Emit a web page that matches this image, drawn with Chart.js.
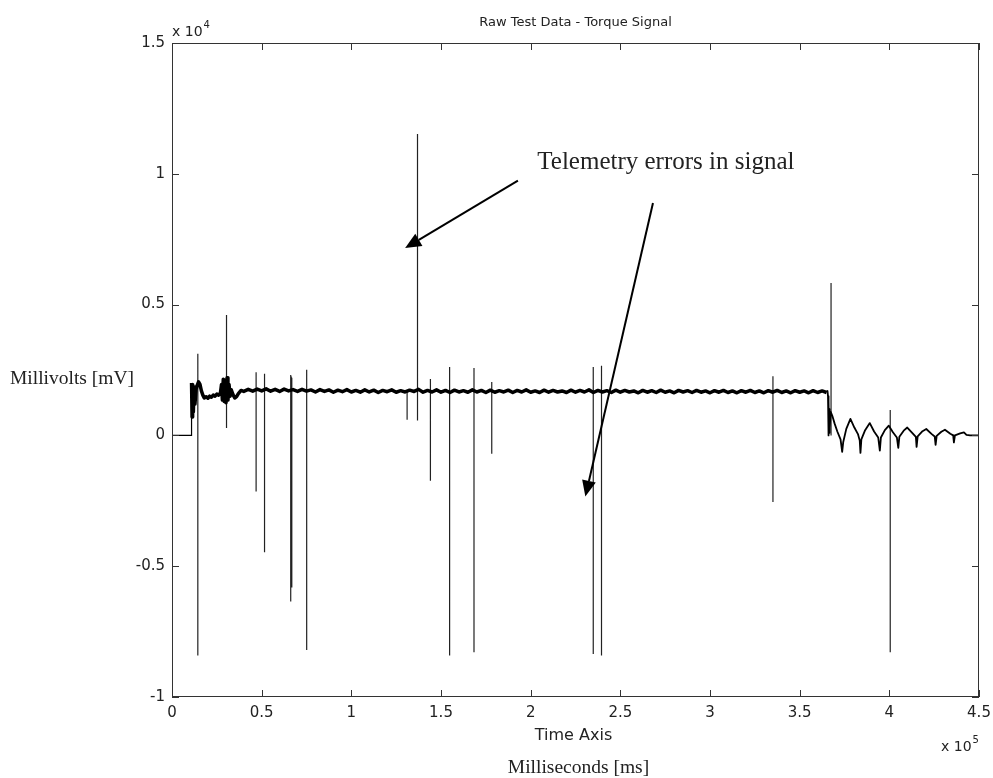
<!DOCTYPE html>
<html>
<head>
<meta charset="utf-8">
<title>Raw Test Data - Torque Signal</title>
<script src="https://cdn.jsdelivr.net/npm/chart.js@4.4.1/dist/chart.umd.min.js"></script>
<style>
  html, body { margin: 0; padding: 0; background: #fff; }
  canvas { display: block; }
</style>
</head>
<body>
<canvas id="myChart" width="993" height="778"></canvas>
<script>
// ---- data (time in ms, signal in mV) ----
var leadT  = [0, 10900, 10900];
var leadMv = [0, 0, 2000];

var bandT = [
  10900, 11200, 11500, 11900, 12300, 12800, 13400, 14000, 14800, 15600,
  16400, 17200, 18000, 19000, 20000, 21000, 22000, 23000, 24000, 25000,
  26000, 27000, 27600, 28100, 28600, 29100, 29600, 30100, 30700, 31200,
  31800, 32400, 33000, 34000, 35000, 36000, 37000, 38500, 40000, 42500,
  45000, 47500, 50000, 52500, 55000, 57500, 60000, 62500, 65000, 67500,
  70000, 72500, 75000, 77500, 80000, 82500, 85000, 87500, 90000, 92500,
  95000, 97500, 100000, 102500, 105000, 107500, 110000, 112500, 115000, 117500,
  120000, 122500, 125000, 127500, 130000, 132500, 135000, 137500, 140000, 142500,
  145000, 147500, 150000, 152500, 155000, 157500, 160000, 162500, 165000, 167500,
  170000, 172500, 175000, 177500, 180000, 182500, 185000, 187500, 190000, 192500,
  195000, 197500, 200000, 202500, 205000, 207500, 210000, 212500, 215000, 217500,
  220000, 222500, 225000, 227500, 230000, 232500, 235000, 237500, 240000, 242500,
  245000, 247500, 250000, 252500, 255000, 257500, 260000, 262500, 265000, 267500,
  270000, 272500, 275000, 277500, 280000, 282500, 285000, 287500, 290000, 292500,
  295000, 297500, 300000, 302500, 305000, 307500, 310000, 312500, 315000, 317500,
  320000, 322500, 325000, 327500, 330000, 332500, 335000, 337500, 340000, 342500,
  345000, 347500, 350000, 352500, 355000, 357500, 360000, 362500, 365000
];
var bandMv = [
  2000, 700, 1950, 900, 1850, 1200, 1750, 1900, 2050, 1950,
  1700, 1540, 1430, 1480, 1420, 1500, 1460, 1540, 1500, 1580,
  1540, 1620, 1950, 1350, 2150, 1300, 2100, 1250, 2200, 1350,
  1950, 1500, 1750, 1560, 1430, 1480, 1600, 1720, 1680, 1760,
  1690, 1770, 1700, 1780, 1690, 1760, 1680, 1770, 1700, 1750,
  1680, 1760, 1690, 1740, 1660, 1750, 1680, 1740, 1650, 1730,
  1670, 1750, 1660, 1720, 1650, 1740, 1660, 1730, 1640, 1720,
  1670, 1740, 1650, 1710, 1660, 1730, 1680, 1760, 1650, 1720,
  1660, 1740, 1650, 1720, 1640, 1730, 1660, 1710, 1650, 1740,
  1660, 1720, 1640, 1730, 1650, 1710, 1660, 1730, 1640, 1720,
  1660, 1740, 1650, 1700, 1640, 1730, 1650, 1720, 1660, 1700,
  1640, 1730, 1650, 1720, 1660, 1740, 1640, 1720, 1660, 1710,
  1640, 1730, 1650, 1720, 1660, 1700, 1630, 1720, 1650, 1710,
  1640, 1730, 1650, 1700, 1630, 1720, 1660, 1710, 1640, 1720,
  1650, 1700, 1630, 1710, 1650, 1720, 1640, 1700, 1630, 1710,
  1650, 1720, 1640, 1700, 1630, 1710, 1650, 1720, 1640, 1700,
  1630, 1710, 1650, 1700, 1630, 1710, 1640, 1700, 1640
];

var tailT = [
  365000, 365500, 365800, 366000, 366200, 366400, 366600, 366900, 367300, 368200,
  369500, 371000, 372800, 373700, 374300, 376000, 378300, 380500, 382500, 383500,
  383900, 384400, 386500, 389100, 391500, 393800, 394700, 395300, 397500, 399700,
  402000, 404200, 405000, 405600, 408000, 410000, 413000, 414800, 415200, 415800,
  418500, 420600, 423500, 425300, 425800, 426400, 429000, 431000, 434000, 435600,
  436000, 436600, 439500, 441600, 443000, 445000, 450000
];
var tailMv = [
  1640, 1700, 1500, 0, 1300, 100, 1000, 300, 900, 750,
  450, 150, -150, -630, -250, 250, 630, 300, 50, -200,
  -670, -150, 200, 470, 150, -80, -580, -80, 200, 370,
  120, -80, -480, -50, 180, 300, 80, -60, -440, -40,
  160, 245, 60, -40, -360, -20, 140, 218, 60, 0,
  -270, 0, 80, 115, 20, 0, 0
];

// telemetry error spikes
var spikeT      = [14400, 30400, 46900, 51600, 66200, 66500, 66800, 75100, 131100, 136900,
                   144100, 154800, 168400, 178300, 234900, 239500, 335100, 367500, 400500];
var spikeTop    = [3120, 4600, 2410, 2360, 2310, 2250, 2200, 2510, 1700, 11520,
                   2160, 2610, 2580, 2040, 2610, 2660, 2260, 5830, 970];
var spikeBottom = [-8410, 280, -2140, -4470, -6350, -5810, -5810, -8200, 600, 570,
                   -1730, -8410, -8290, -700, -8360, -8410, -2550, 0, -8290];

var xTicks = [0, 50000, 100000, 150000, 200000, 250000, 300000, 350000, 400000, 450000];
var yTicks = [-10000, -5000, 0, 5000, 10000, 15000];

function toPoints(ts, vs) {
  return ts.map(function (t, i) { return { x: t, y: vs[i] }; });
}

var spikePoints = [];
spikeT.forEach(function (t, i) {
  spikePoints.push({ x: t, y: spikeTop[i] });
  spikePoints.push({ x: t, y: spikeBottom[i] });
  spikePoints.push({ x: t, y: null });
});

var tickFont = 'DejaVu Sans';
var serif = '"Liberation Serif", "Times New Roman", serif';

// frame, inward ticks, titles and annotation
var decorations = {
  id: 'decorations',
  afterDraw: function (chart) {
    var c = chart.ctx;
    var a = chart.chartArea;
    var xs = chart.scales.x, ys = chart.scales.y;
    c.save();
    c.strokeStyle = '#333';
    c.lineWidth = 1;
    c.strokeRect(a.left + 0.5, a.top + 0.5, a.right - a.left - 1, a.bottom - a.top - 1);
    c.beginPath();
    xTicks.forEach(function (v) {
      var px = Math.round(xs.getPixelForValue(v)) + 0.5;
      c.moveTo(px, a.bottom); c.lineTo(px, a.bottom - 7);
      c.moveTo(px, a.top); c.lineTo(px, a.top + 7);
    });
    yTicks.forEach(function (v) {
      var py = Math.round(ys.getPixelForValue(v)) + 0.5;
      c.moveTo(a.left, py); c.lineTo(a.left + 7, py);
      c.moveTo(a.right, py); c.lineTo(a.right - 7, py);
    });
    c.stroke();

    c.fillStyle = '#222';
    // title
    c.font = '13px ' + tickFont;
    c.textAlign = 'center';
    c.textBaseline = 'alphabetic';
    c.fillText('Raw Test Data - Torque Signal', (a.left + a.right) / 2, 26);
    // x label
    c.font = '16px ' + tickFont;
    c.fillText('Time Axis', (a.left + a.right) / 2 - 2, 740);
    // exponents
    c.textAlign = 'left';
    c.font = '14px ' + tickFont;
    var w = c.measureText('x 10').width;
    c.fillText('x 10', a.left, 36);
    c.fillText('x 10', 941, 751);
    c.font = '10px ' + tickFont;
    c.fillText('4', a.left + w + 1, 28);
    c.fillText('5', 941 + w + 1, 743);

    // serif labels
    c.font = '19.5px ' + serif;
    c.fillText('Millivolts [mV]', 10, 384);
    c.textAlign = 'center';
    c.fillText('Milliseconds [ms]', (a.left + a.right) / 2 + 3, 773);

    // annotation
    c.textAlign = 'left';
    c.font = '25px ' + serif;
    c.fillText('Telemetry errors in signal', xs.getPixelForValue(203700), ys.getPixelForValue(10200));

    function arrow(x0, y0, x1, y1) {
      var p0x = xs.getPixelForValue(x0), p0y = ys.getPixelForValue(y0);
      var p1x = xs.getPixelForValue(x1), p1y = ys.getPixelForValue(y1);
      var ang = Math.atan2(p1y - p0y, p1x - p0x);
      var len = 16, half = 7;
      var bx = p1x - len * Math.cos(ang), by = p1y - len * Math.sin(ang);
      c.strokeStyle = '#000';
      c.lineWidth = 2;
      c.beginPath();
      c.moveTo(p0x, p0y); c.lineTo(bx, by);
      c.stroke();
      c.fillStyle = '#000';
      c.beginPath();
      c.moveTo(p1x, p1y);
      c.lineTo(bx + half * Math.sin(ang), by - half * Math.cos(ang));
      c.lineTo(bx - half * Math.sin(ang), by + half * Math.cos(ang));
      c.closePath();
      c.fill();
    }
    arrow(192900, 9740, 130000, 7160);
    arrow(268200, 8880, 230500, -2340);
    c.restore();
  }
};

var ctx = document.getElementById('myChart');
var myChart = new Chart(ctx, {
  type: 'line',
  data: {
    datasets: [
      { data: toPoints(leadT, leadMv), borderColor: '#000', borderWidth: 1.2, pointRadius: 0 },
      { data: toPoints(bandT, bandMv), borderColor: '#000', borderWidth: 3.5, pointRadius: 0, borderJoinStyle: 'round' },
      { data: toPoints(tailT, tailMv), borderColor: '#000', borderWidth: 1.8, pointRadius: 0, borderJoinStyle: 'round' },
      { data: spikePoints, borderColor: '#222', borderWidth: 1.2, pointRadius: 0, spanGaps: false }
    ]
  },
  options: {
    responsive: false,
    animation: false,
    devicePixelRatio: 1,
    layout: { padding: { left: 0, top: 43, right: 14, bottom: 0 } },
    plugins: { legend: { display: false }, tooltip: { enabled: false } },
    elements: { line: { tension: 0 } },
    scales: {
      x: {
        type: 'linear', min: 0, max: 450000,
        afterFit: function (s) { s.height = 81; s.paddingLeft = 0; s.paddingRight = 0; },
        afterBuildTicks: function (s) { s.ticks = xTicks.map(function (v) { return { value: v }; }); },
        grid: { display: false, drawTicks: false },
        border: { display: false },
        ticks: {
          color: '#222', padding: 7, maxRotation: 0, autoSkip: false,
          font: { family: tickFont, size: 15 },
          callback: function (v) { return String(v / 100000); }
        }
      },
      y: {
        type: 'linear', min: -10000, max: 15000,
        afterFit: function (s) { s.width = 172; s.paddingTop = 0; s.paddingBottom = 0; },
        afterBuildTicks: function (s) { s.ticks = yTicks.map(function (v) { return { value: v }; }); },
        grid: { display: false, drawTicks: false },
        border: { display: false },
        ticks: {
          color: '#222', padding: 7, autoSkip: false,
          font: { family: tickFont, size: 15 },
          callback: function (v) { return String(v / 10000); }
        }
      }
    }
  },
  plugins: [decorations]
});
</script>
</body>
</html>
